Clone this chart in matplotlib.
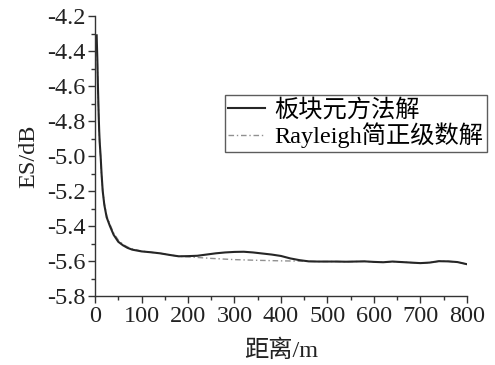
import numpy as np
import matplotlib.pyplot as plt
from matplotlib.ticker import MultipleLocator

plt.rcParams['font.family'] = ['Liberation Serif', 'Noto Sans CJK SC']

# distance (m) and ES (dB)
dist_plate = [3.5, 4, 5, 6, 7, 8, 9, 10, 12, 14, 16.5, 20, 25, 32, 40, 50, 60, 70, 80, 90,
              100, 120, 140, 160, 180, 200, 220, 240, 260, 280, 300, 320, 340, 360, 380,
              400, 420, 440, 460, 480, 500, 520, 540, 560, 580, 600, 620, 640, 660, 680,
              700, 720, 740, 760, 780, 800]
es_plate = [-4.31, -4.36, -4.45, -4.58, -4.68, -4.78, -4.86, -4.92, -5.00, -5.10, -5.20,
            -5.28, -5.35, -5.40, -5.45, -5.49, -5.51, -5.525, -5.535, -5.54,
            -5.545, -5.55, -5.556, -5.565, -5.573, -5.572, -5.570, -5.563, -5.556, -5.551,
            -5.548, -5.547, -5.551, -5.557, -5.563, -5.571, -5.585, -5.595, -5.602, -5.603,
            -5.603, -5.603, -5.604, -5.603, -5.602, -5.605, -5.607, -5.603, -5.606, -5.609,
            -5.612, -5.609, -5.601, -5.602, -5.606, -5.618]

dist_rayleigh = [4, 5, 6, 7, 8, 9, 10, 12, 14, 16.5, 20, 25, 32, 40, 50, 60, 70, 80, 90,
                 100, 120, 140, 160, 180, 200, 250, 300, 350, 400, 450, 480, 500, 520, 540,
                 560, 580, 600, 620, 640, 660, 680, 700, 720, 740, 760, 780, 800]
es_rayleigh = [-4.40, -4.47, -4.59, -4.69, -4.79, -4.87, -4.93, -5.01, -5.11, -5.20,
               -5.27, -5.34, -5.39, -5.44, -5.48, -5.505, -5.52, -5.53, -5.537,
               -5.543, -5.55, -5.556, -5.565, -5.573, -5.576, -5.585, -5.592, -5.596,
               -5.599, -5.601, -5.603, -5.603, -5.603, -5.604, -5.603, -5.602, -5.605,
               -5.607, -5.603, -5.606, -5.609, -5.612, -5.609, -5.601, -5.602, -5.606, -5.618]

fig = plt.figure(figsize=(4.95, 3.65), dpi=100)
ax = fig.add_axes([0.192, 0.189, 0.751, 0.767])

ax.plot(dist_rayleigh, es_rayleigh, color='#909090', lw=1.0, ls=(0, (4, 2, 1, 2)),
        label='Rayleigh简正级数解')
ax.plot(dist_plate, es_plate, color='#262626', lw=1.5, label='板块元方法解')

ax.set_xlim(0, 800)
ax.set_ylim(-5.8, -4.2)
ax.xaxis.set_major_locator(MultipleLocator(100))
ax.xaxis.set_minor_locator(MultipleLocator(50))
ax.yaxis.set_major_locator(MultipleLocator(0.2))
ax.yaxis.set_minor_locator(MultipleLocator(0.1))
ax.yaxis.set_major_formatter(plt.FuncFormatter(lambda v, p: f'{v:.1f}'))

for s in ['top', 'right']:
    ax.spines[s].set_visible(False)
for s in ['left', 'bottom']:
    ax.spines[s].set_linewidth(1.0)
    ax.spines[s].set_color('#333333')

ax.tick_params(which='major', direction='out', length=5, width=1.0, labelsize=17.5,
               colors='#333333', labelcolor='#222222', pad=2)
ax.tick_params(which='minor', direction='out', length=3, width=1.0, colors='#333333')

ax.set_xlabel('距离/m', fontsize=17.5, color='#222222', labelpad=9)
ax.set_ylabel('ES/dB', fontsize=17.5, color='#222222', labelpad=5)

h, l = ax.get_legend_handles_labels()
leg = ax.legend(h[::-1], l[::-1], loc='upper left', bbox_to_anchor=(0.349, 0.718),
                fontsize=17.5, frameon=True, fancybox=False, handlelength=1.5,
                handletextpad=0.4, borderpad=0.15, labelspacing=0.05, borderaxespad=0,
                handleheight=0.6)
leg.get_frame().set_edgecolor('#333333')
leg.get_frame().set_linewidth(1.0)

fig.savefig('out.png', dpi=100)
